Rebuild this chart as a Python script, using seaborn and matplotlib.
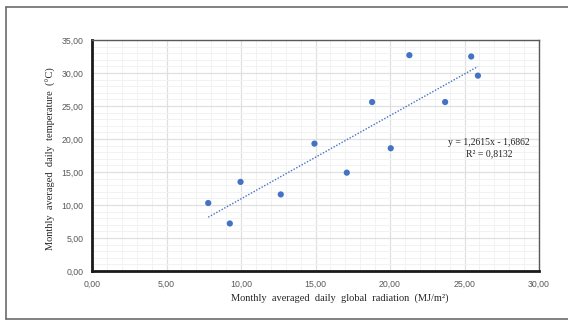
import numpy as np
import pandas as pd
import matplotlib
matplotlib.use("Agg")
import matplotlib.pyplot as plt
import seaborn as sns
from matplotlib.lines import Line2D
from matplotlib.ticker import MultipleLocator, FuncFormatter

# data
radiation = [7.8, 9.25, 9.97, 12.67, 14.93, 17.1, 18.8, 20.05, 21.3, 23.7, 25.45, 25.9]
temperature = [10.3, 7.2, 13.5, 11.6, 19.3, 14.9, 25.6, 18.6, 32.7, 25.6, 32.5, 29.6]
slope = 1.2615
intercept = -1.6862
r2 = 0.8132

df = pd.DataFrame({"x": radiation, "y": temperature})
trend = pd.DataFrame({"x": [min(radiation), max(radiation)]})
trend["y"] = slope * trend["x"] + intercept

sns.set_style("white")
plt.rcParams["font.family"] = ["Liberation Sans", "DejaVu Sans"]

fig = plt.figure(figsize=(5.68, 3.21), dpi=100)
ax = fig.add_axes([92 / 568, 1 - 271 / 321, (539 - 92) / 568, (271 - 40) / 321])

# outer frame of the chart area (right side runs off the picture)
x0, y0, y1 = 6 / 568, 2 / 321, 1 - 7 / 321
for xs, ys in [([x0, x0], [y0, y1]), ([x0, 1], [y1, y1]), ([x0, 1], [y0, y0])]:
    fig.lines.append(Line2D(xs, ys, transform=fig.transFigure, color="#6b6b6b", linewidth=1.2))

ax.set_xlim(0, 30)
ax.set_ylim(0, 35)
ax.xaxis.set_major_locator(MultipleLocator(5))
ax.xaxis.set_minor_locator(MultipleLocator(1))
ax.yaxis.set_major_locator(MultipleLocator(5))
ax.yaxis.set_minor_locator(MultipleLocator(1))
fmt = FuncFormatter(lambda v, p: f"{v:.2f}".replace(".", ","))
ax.xaxis.set_major_formatter(fmt)
ax.yaxis.set_major_formatter(fmt)
ax.grid(which="major", color="#e0e0e0", linewidth=0.9)
ax.grid(which="minor", color="#f2f2f2", linewidth=0.7)
ax.set_axisbelow(True)
ax.tick_params(which="both", length=0, labelsize=6.3, colors="#595959", pad=6)

for s in ["left", "bottom"]:
    ax.spines[s].set_color("#1a1a1a")
    ax.spines[s].set_linewidth(2)
for s in ["top", "right"]:
    ax.spines[s].set_color("#595959")
    ax.spines[s].set_linewidth(1)

sns.lineplot(data=trend, x="x", y="y", ax=ax, color="#4472C4", linestyle=(0, (1, 1.2)),
             linewidth=1)
sns.scatterplot(data=df, x="x", y="y", ax=ax, color="#4472C4", s=20, edgecolor="none", zorder=3)

serif = ["Liberation Serif", "DejaVu Serif"]
ax.text(26.65, 19.4, f"y = {slope:.4f}x - {abs(intercept):.4f}".replace(".", ","),
        family=serif, fontsize=7, ha="center", va="center", color="#262626")
ax.text(26.65, 17.75, f"R² = {r2:.4f}".replace(".", ","),
        family=serif, fontsize=7, ha="center", va="center", color="#262626")

ax.set_xlabel("")
ax.set_ylabel("")
fig.text(340 / 568, 1 - 298 / 321, "Monthly  averaged  daily  global  radiation  (MJ/m²)",
         family=serif, fontsize=7.5, ha="center", va="center", color="#262626")
fig.text(51 / 568, 1 - 159 / 321, "Monthly  averaged  daily  temperature  (°C)",
         family=serif, fontsize=7.5, ha="center", va="center", rotation=90, color="#262626")

fig.savefig("out.png", dpi=100)
